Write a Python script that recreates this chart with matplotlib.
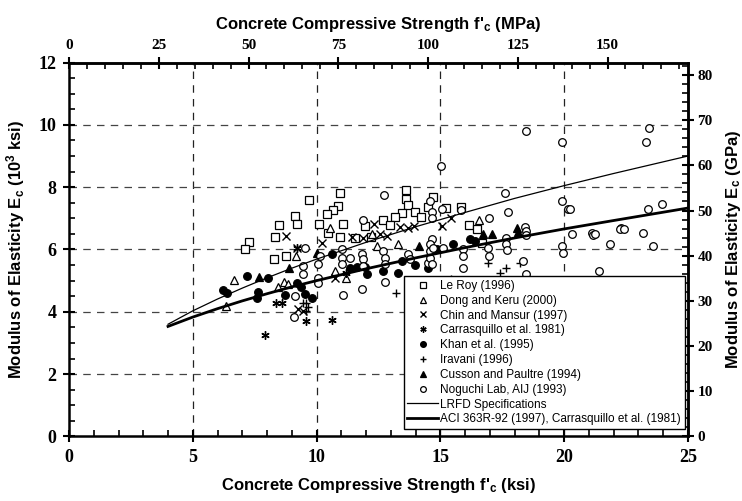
import matplotlib
matplotlib.use("Agg")
import matplotlib.pyplot as plt
from matplotlib.ticker import MultipleLocator, FixedLocator

plt.rcParams["font.family"] = ["Liberation Sans", "DejaVu Sans"]
plt.rcParams["mathtext.fontset"] = "custom"
plt.rcParams["mathtext.rm"] = "Liberation Sans:bold"
plt.rcParams["mathtext.bf"] = "Liberation Sans:bold"
plt.rcParams["mathtext.it"] = "Liberation Sans:bold"

# ---- measured data: f'c (ksi), Ec (10^3 ksi) ----
le_roy_fc = [7.28, 7.13, 8.32, 8.29, 8.75, 9.13, 8.49, 9.20, 9.71, 10.94, 10.88, 10.67, 10.44, 10.11,
             11.06, 13.61, 13.61, 13.70, 13.44, 13.97, 14.21, 14.49, 12.67, 13.16, 12.97, 11.96,
             10.48, 10.94, 11.55, 14.72, 15.23, 15.83, 16.16, 16.47, 16.67, 12.19]
le_roy_ec = [6.25, 6.01, 6.40, 5.70, 5.79, 7.08, 6.79, 6.81, 7.58, 7.83, 7.40, 7.26, 7.13, 6.83,
             6.83, 7.91, 7.62, 7.42, 7.17, 7.22, 7.05, 7.35, 6.94, 7.05, 6.79, 6.76,
             6.54, 6.40, 6.36, 7.67, 7.33, 7.35, 6.79, 6.65, 6.22, 6.40]

dong_fc = [6.68, 6.34, 8.43, 8.69, 8.86, 9.17, 10.54, 12.23, 12.46, 13.28, 10.75, 11.21, 16.57]
dong_ec = [5.02, 4.18, 4.79, 4.96, 4.88, 5.79, 6.70, 6.49, 6.11, 6.17, 5.31, 5.09, 6.94]

chin_fc = [8.75, 9.20, 9.26, 12.32, 13.38, 13.69, 13.95, 11.42, 11.89, 12.56, 12.83, 10.21,
           10.75, 9.46, 15.45, 15.05]
chin_ec = [6.43, 6.06, 4.09, 6.83, 6.72, 6.68, 6.74, 6.40, 6.36, 6.49, 6.43, 6.22,
           5.09, 4.04, 7.00, 6.76]

carr_fc = [7.91, 8.36, 8.59, 9.57, 10.61, 11.21, 9.20]
carr_ec = [3.25, 4.29, 4.29, 3.70, 3.75, 5.25, 6.06]

khan_fc = [7.18, 6.23, 6.39, 7.64, 7.60, 8.05, 8.72, 9.20, 10.61, 11.35, 11.65, 12.02, 11.96,
           12.70, 13.44, 13.97, 13.30, 14.51, 9.80, 9.53, 15.53, 16.20, 16.40, 14.85, 9.39]
khan_ec = [5.15, 4.69, 4.61, 4.64, 4.45, 5.09, 4.54, 4.93, 5.85, 5.42, 5.44, 5.22, 5.44,
           5.31, 5.63, 5.50, 5.25, 5.42, 4.45, 4.56, 6.17, 6.33, 6.27, 6.01, 4.80]

iravani_fc = [9.46, 9.59, 9.67, 9.59, 13.23, 15.45, 16.94, 17.40, 17.67, 18.21]
iravani_ec = [4.29, 4.29, 4.15, 4.02, 4.61, 5.04, 5.58, 5.25, 5.42, 5.58]

cusson_fc = [7.69, 8.90, 10.01, 14.15, 16.73, 17.07, 18.15, 18.08]
cusson_ec = [5.12, 5.42, 5.90, 6.11, 6.49, 6.49, 6.57, 6.68]

noguchi_fc = [9.09, 9.13, 12.73, 11.87, 14.58, 9.53, 10.13, 10.07, 9.46, 9.46, 10.07, 10.07,
              11.01, 11.01, 11.01, 11.35, 11.82, 11.89, 11.89, 12.70, 12.77, 12.77, 12.77,
              11.82, 11.08, 13.70, 13.77, 14.51, 18.48, 19.90, 15.03, 17.61, 19.90, 20.16,
              15.05, 15.83, 17.75, 16.98, 18.42, 14.65, 14.65, 14.65, 15.12, 15.92, 15.92,
              15.90, 16.94, 16.98, 17.67, 17.67, 17.71, 18.35, 18.48, 19.90, 19.97, 23.44,
              23.31, 23.40, 23.94, 20.24, 22.32, 20.34, 21.11, 21.18, 21.24, 21.85, 22.26,
              22.41, 23.19, 23.58, 21.42, 14.58, 14.58, 14.58, 14.72, 14.65, 18.46, 18.46]
noguchi_ec = [3.83, 4.50, 7.74, 6.94, 7.56, 6.06, 5.79, 5.52, 5.47, 5.22, 5.09, 4.91,
              6.01, 5.74, 5.52, 5.72, 5.85, 5.69, 5.47, 5.95, 5.74, 5.54, 4.96,
              4.72, 4.54, 5.85, 5.69, 5.58, 9.81, 9.44, 8.69, 7.83, 7.56, 7.29,
              7.29, 7.27, 7.21, 7.02, 6.72, 7.21, 7.02, 6.33, 6.06, 6.01, 5.79,
              5.40, 6.06, 5.79, 6.38, 6.17, 5.97, 5.63, 5.20, 6.11, 5.90, 9.90,
              9.44, 7.31, 7.45, 7.29, 6.70, 6.51, 6.54, 6.47, 6.51, 6.19, 6.67,
              6.67, 6.52, 6.11, 5.31, 6.17, 5.95, 5.74, 6.06, 5.52, 6.60, 6.45]

# ---- design curves ----
curve_fc = [4, 5, 6, 7, 8, 9, 10, 12, 14, 16, 18, 20, 22, 25]
lrfd_ec = [3.60, 4.03, 4.41, 4.76, 5.09, 5.40, 5.69, 6.23, 6.73, 7.19, 7.64, 8.05, 8.44, 9.00]
aci_ec = [3.53, 3.83, 4.10, 4.35, 4.58, 4.80, 5.00, 5.38, 5.73, 6.06, 6.37, 6.66, 6.93, 7.33]

KSI_TO_MPA = 6.895
mpa_ticks = [0, 25, 50, 75, 100, 125, 150]
gpa_ticks = [0, 10, 20, 30, 40, 50, 60, 70, 80]

fig = plt.figure(figsize=(7.42, 5.01), dpi=100)
ax = fig.add_axes([0.093, 0.129, 0.834, 0.746])

ms = 5.5
mew = 0.9
ax.plot(le_roy_fc, le_roy_ec, ls="none", marker="s", ms=ms, mfc="white", mec="black", mew=mew,
        label="Le Roy (1996)", zorder=3)
ax.plot(dong_fc, dong_ec, ls="none", marker="^", ms=ms, mfc="white", mec="black", mew=mew,
        label="Dong and Keru (2000)", zorder=3)
ax.plot(chin_fc, chin_ec, ls="none", marker="x", ms=ms, mec="black", mew=1.0,
        label="Chin and Mansur (1997)", zorder=3)
ax.plot(carr_fc, carr_ec, ls="none", marker=(6, 2, 0), ms=ms + 0.5, mec="black", mew=1.0,
        label="Carrasquillo et al. 1981)", zorder=3)
ax.plot(khan_fc, khan_ec, ls="none", marker="o", ms=ms, mfc="black", mec="black", mew=mew,
        label="Khan et al. (1995)", zorder=3)
ax.plot(iravani_fc, iravani_ec, ls="none", marker="+", ms=ms + 0.5, mec="black", mew=1.0,
        label="Iravani (1996)", zorder=3)
ax.plot(cusson_fc, cusson_ec, ls="none", marker="^", ms=ms, mfc="black", mec="black", mew=mew,
        label="Cusson and Paultre (1994)", zorder=3)
ax.plot(noguchi_fc, noguchi_ec, ls="none", marker="o", ms=ms, mfc="white", mec="black", mew=mew,
        label="Noguchi Lab, AIJ (1993)", zorder=3)
ax.plot(curve_fc, lrfd_ec, color="black", lw=0.9, label="LRFD Specifications", zorder=4)
ax.plot(curve_fc, aci_ec, color="black", lw=2.0,
        label="ACI 363R-92 (1997), Carrasquillo et al. (1981)", zorder=4)

ax.set_xlim(0, 25)
ax.set_ylim(0, 12)

# dashed grid
for gx in [5, 10, 15, 20]:
    ax.axvline(gx, color="#222222", lw=0.9, dashes=(6, 5), zorder=1)
for gy in [2, 4, 6, 8, 10]:
    ax.axhline(gy, color="#444444", lw=0.9, dashes=(6, 5), zorder=1)

serif = ["Liberation Serif", "DejaVu Serif"]
big_ticks = dict(family=serif, weight="bold", size=13)
small_ticks = dict(family=serif, weight="bold", size=11)
label_font = dict(family=["Liberation Sans", "DejaVu Sans"], weight="bold", size=12)

ax.xaxis.set_major_locator(MultipleLocator(5))
ax.xaxis.set_minor_locator(MultipleLocator(1))
ax.yaxis.set_major_locator(MultipleLocator(2))
ax.yaxis.set_minor_locator(MultipleLocator(0.5))
ax.tick_params(which="major", direction="inout", length=8, width=1.5, pad=5)
ax.tick_params(which="minor", direction="in", length=4, width=1.2)
for lab in ax.get_xticklabels() + ax.get_yticklabels():
    lab.set(**big_ticks)
for s in ax.spines.values():
    s.set_linewidth(1.8)

ax.set_xlabel("Concrete Compressive Strength f'$_\\mathbf{c}$ (ksi)", labelpad=7, **label_font)
ax.set_ylabel("Modulus of Elasticity E$_\\mathbf{c}$ (10$^\\mathbf{3}$ ksi)", labelpad=8, **label_font)

top = ax.secondary_xaxis("top", functions=(lambda x: x * KSI_TO_MPA, lambda m: m / KSI_TO_MPA))
top.xaxis.set_major_locator(FixedLocator(mpa_ticks))
top.xaxis.set_minor_locator(MultipleLocator(5))
top.tick_params(which="major", direction="inout", length=8, width=1.5, pad=4)
top.tick_params(which="minor", direction="in", length=4, width=1.2)
top.set_xticklabels([str(t) for t in mpa_ticks], **small_ticks)
top.set_xlabel("Concrete Compressive Strength f'$_\\mathbf{c}$ (MPa)", labelpad=7, **label_font)
top.spines["top"].set_linewidth(1.8)

right = ax.secondary_yaxis("right", functions=(lambda y: y * KSI_TO_MPA, lambda g: g / KSI_TO_MPA))
right.yaxis.set_major_locator(FixedLocator(gpa_ticks))
right.yaxis.set_minor_locator(MultipleLocator(2))
right.tick_params(which="major", direction="inout", length=8, width=1.5, pad=3)
right.tick_params(which="minor", direction="in", length=4, width=1.2)
right.set_yticklabels([str(t) for t in gpa_ticks], **small_ticks)
right.spines["right"].set_linewidth(1.8)
right.set_ylabel("Modulus of Elasticity E$_\\mathbf{c}$ (GPa)", labelpad=8, **label_font)

leg = ax.legend(loc="lower right", bbox_to_anchor=(0.995, 0.02), fontsize=8.5,
                frameon=True, fancybox=False, framealpha=1, edgecolor="black",
                markerscale=0.75, handlelength=2.6, handletextpad=0.2, labelspacing=0.24,
                borderpad=0.3, borderaxespad=0.0)
leg.get_frame().set_linewidth(1.0)
leg.set_zorder(10)

fig.savefig("out.png", dpi=100)
